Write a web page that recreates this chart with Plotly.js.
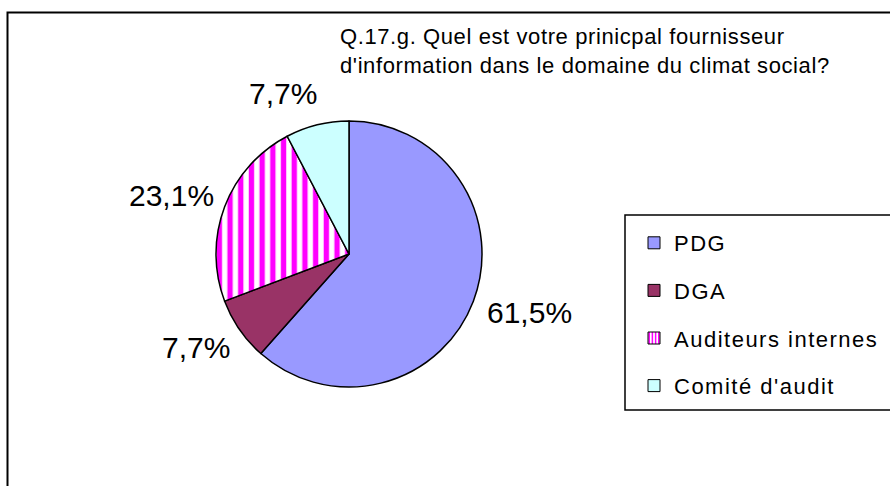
<!DOCTYPE html>
<html>
<head>
<meta charset="utf-8">
<script src="https://cdn.plot.ly/plotly-3.0.1.min.js"></script>
<style>
html, body { margin: 0; padding: 0; background: #fff; overflow: hidden; }
#chart { width: 890px; height: 486px; }
</style>
</head>
<body>
<div id="chart"></div>
<script>
// ---- data ----
const categories = ["PDG", "DGA", "Auditeurs internes", "Comité d'audit"];
const counts = [8, 1, 3, 1];
const colors = ["#9999FF", "#993366", "#FF00FF", "#CCFFFF"];
const patternShapes = ["", "", "|", ""];
const titleLines = ["Q.17.g. Quel est votre prinicpal fournisseur", "d'information dans le domaine du climat social?"];

const FONT = "Liberation Sans, Arial, sans-serif";
const W = 890, H = 486;
const CX = 349, CY = 254, R = 133;   // pie placement (px)
const LABEL_R = 148;                 // label anchor distance (px)

function spaced(t, ls) {
  return '<span style="letter-spacing:' + ls + 'px">' + t + '</span>';
}

function pat(i, size) {
  return patternShapes[i]
    ? {shape: patternShapes[i], fgcolor: colors[i], bgcolor: "#FFFFFF", size: size, solidity: 0.5, fillmode: "replace"}
    : {shape: ""};
}

const pie = {
  type: "pie",
  labels: categories,
  values: counts,
  sort: false,
  direction: "clockwise",
  rotation: 0,
  textinfo: "none",
  marker: {
    colors: colors,
    line: {color: "#000", width: 1.5},
    pattern: {
      shape: patternShapes,
      fgcolor: colors,
      bgcolor: colors.map((c, i) => patternShapes[i] ? "#FFFFFF" : c),
      size: 10.7,
      solidity: 0.5
    }
  },
  domain: {x: [(CX - R) / W, (CX + R) / W], y: [1 - (CY + R) / H, 1 - (CY - R) / H]},
  showlegend: false,
  hoverinfo: "none"
};

// percentage labels placed Excel-style at each slice's mid-angle
const total = counts.reduce((a, b) => a + b, 0);
let cum = 0;
const labelAnnots = counts.map((v, i) => {
  const mid = (cum + v / 2) / total * 2 * Math.PI;
  cum += v;
  const dx = Math.sin(mid), dy = -Math.cos(mid);      // screen coords, y down
  const px = CX + LABEL_R * dx, py = CY + LABEL_R * dy + dy * 17;
  return {
    xref: "paper", yref: "paper",
    x: px / W, y: 1 - py / H,
    xanchor: dx >= 0 ? "left" : "right",
    yanchor: "middle",
    xshift: dx >= 0 ? -2 : 5,
    showarrow: false,
    text: (v / total * 100).toFixed(1).replace(".", ",") + "%",
    font: {family: FONT, size: 30, color: "#000"}
  };
});

// legend entries (no marks drawn)
const legendTraces = categories.map((c, i) => ({
  type: "bar",
  x: [null], y: [null],
  name: spaced(c, 1.5),
  legendgroup: "g" + i,
  marker: {color: colors[i], line: {color: "#000", width: 1}, pattern: pat(i, 4)},
  hoverinfo: "none",
  showlegend: true
}));

const layout = {
  width: W, height: H,
  margin: {l: 0, r: 0, t: 0, b: 0},
  paper_bgcolor: "#fff",
  plot_bgcolor: "rgba(0,0,0,0)",
  font: {family: FONT, color: "#000"},
  xaxis: {visible: false, domain: [0.98, 1]},
  yaxis: {visible: false, domain: [0.98, 1]},
  showlegend: true,
  legend: {
    x: 634 / W, xanchor: "left",
    y: 1 - 222 / H, yanchor: "top",
    font: {family: FONT, size: 22, color: "#000"},
    tracegroupgap: 16,
    bgcolor: "rgba(0,0,0,0)",
    borderwidth: 0,
    traceorder: "grouped"
  },
  annotations: [{
    xref: "paper", yref: "paper",
    x: 338 / W, y: 1 - 22 / H,
    xanchor: "left", yanchor: "top",
    align: "left",
    showarrow: false,
    text: titleLines.map(t => spaced(t, 0.6)).join("<br>"),
    font: {family: FONT, size: 22, color: "#000"}
  }].concat(labelAnnots),
  shapes: [
    {type: "rect", xref: "paper", yref: "paper", x0: 7.5 / W, x1: 1.2, y0: -0.2, y1: 1 - 12.5 / H,
     line: {color: "#000", width: 2}, fillcolor: "rgba(0,0,0,0)", layer: "below"},
    {type: "rect", xref: "paper", yref: "paper", x0: 625 / W, x1: 1.2, y0: 1 - 410 / H, y1: 1 - 215 / H,
     line: {color: "#000", width: 1.5}, fillcolor: "rgba(0,0,0,0)", layer: "below"}
  ]
};

Plotly.newPlot("chart", [pie].concat(legendTraces), layout, {displayModeBar: false, staticPlot: true});
</script>
</body>
</html>
